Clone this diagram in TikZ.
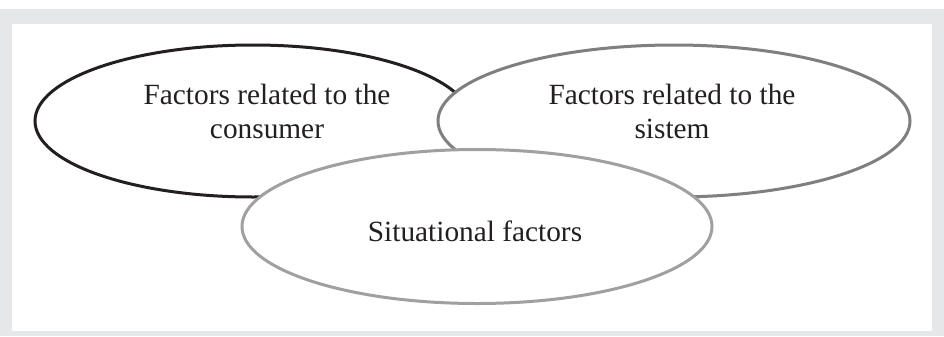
\documentclass[tikz,border=0pt]{standalone}
\usepackage{fontspec}
\setmainfont{Liberation Serif}
\usetikzlibrary{shapes.geometric}
\definecolor{framegrey}{HTML}{E6E7E8}
\definecolor{inkdark}{HTML}{231F20}
\definecolor{midgrey}{HTML}{7F7F7F}
\definecolor{lightgrey}{HTML}{A0A0A0}
\tikzset{
  oval/.style={ellipse, fill=white, line width=2.25pt, inner sep=0pt},
  lbl/.style={text=inkdark, align=center, inner sep=0pt,
    font=\fontsize{22pt}{25.5pt}\selectfont}
}
\begin{document}
\begin{tikzpicture}[x=0.75pt,y=-0.75pt]
\useasboundingbox (0,0) rectangle (944,336);
\fill[white] (0,0) rectangle (944,336);
\fill[framegrey] (0,9) rectangle (944,336);
\fill[white] (12,24) rectangle (932,331);
\node[oval, draw=inkdark, minimum width=327pt, minimum height=114pt] (cons) at (253,121) {};
\node[oval, draw=midgrey, minimum width=354pt, minimum height=114pt] (sys) at (674,121) {};
\node[oval, draw=lightgrey, minimum width=352.5pt, minimum height=115.5pt] (sit) at (477,226.5) {};
\node[lbl] (tcons) at (267,111) {Factors related to the\\consumer};
\node[lbl] (tsys) at (672,111) {Factors related to the\\sistem};
\node[lbl, anchor=base] (tsit) at (475,241) {Situational factors};
\end{tikzpicture}
\end{document}
